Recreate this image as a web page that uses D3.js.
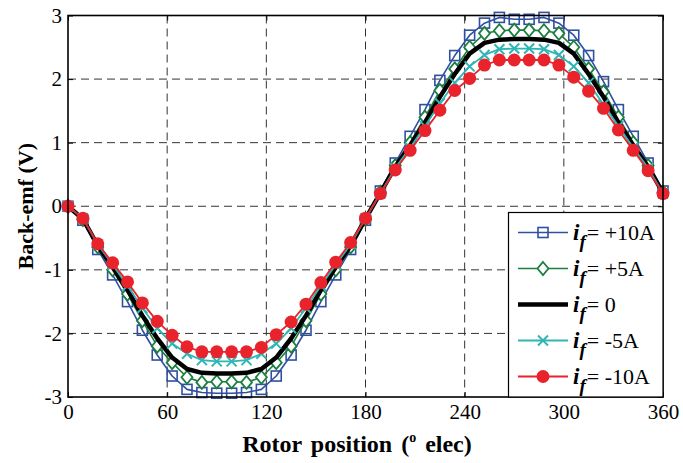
<!DOCTYPE html>
<html>
<head>
<meta charset="utf-8">
<script src="https://cdn.jsdelivr.net/npm/d3@7"></script>
<style>
  body { margin: 0; background: #fff; }
  text { font-family: "Liberation Serif", "Times New Roman", serif; }
</style>
</head>
<body>
<svg id="chart"></svg>
<script>
// 转子位置 (0..360, 每 9 度一个点)
const angles = d3.range(0, 361, 9);

// 各励磁电流下的反电势 (V)
const emfPlus10 = [0, -0.22, -0.68, -1.08, -1.5, -1.95, -2.34, -2.67, -2.88, -2.93, -2.94, -2.94, -2.93, -2.88, -2.67, -2.34, -1.95, -1.5, -1.08, -0.68, -0.22,
  0.24, 0.68, 1.1, 1.52, 1.98, 2.37, 2.69, 2.88, 2.97, 2.94, 2.94, 2.97, 2.88, 2.69, 2.37, 1.96, 1.52, 1.1, 0.68, 0.24];
const emfPlus5 = [0, -0.21, -0.64, -1.0, -1.38, -1.8, -2.2, -2.46, -2.69, -2.77, -2.76, -2.76, -2.77, -2.69, -2.46, -2.2, -1.8, -1.38, -1.0, -0.64, -0.21,
  0.22, 0.64, 1.0, 1.4, 1.82, 2.16, 2.5, 2.72, 2.76, 2.77, 2.77, 2.76, 2.72, 2.5, 2.16, 1.8, 1.4, 1.0, 0.64, 0.22];
const emfZero = [0, -0.2, -0.62, -0.96, -1.32, -1.72, -2.08, -2.38, -2.56, -2.62, -2.63, -2.63, -2.62, -2.56, -2.38, -2.08, -1.72, -1.32, -0.96, -0.62, -0.2,
  0.21, 0.62, 0.96, 1.32, 1.72, 2.08, 2.4, 2.57, 2.62, 2.63, 2.63, 2.62, 2.57, 2.4, 2.08, 1.72, 1.32, 0.96, 0.62, 0.21];
const emfMinus5 = [0, -0.19, -0.6, -0.92, -1.25, -1.6, -1.92, -2.16, -2.32, -2.42, -2.44, -2.44, -2.42, -2.32, -2.16, -1.92, -1.6, -1.25, -0.92, -0.6, -0.19,
  0.2, 0.6, 0.92, 1.26, 1.62, 1.94, 2.2, 2.38, 2.47, 2.48, 2.48, 2.47, 2.38, 2.2, 1.94, 1.6, 1.26, 0.92, 0.6, 0.2];
const emfMinus10 = [0, -0.19, -0.59, -0.89, -1.19, -1.52, -1.81, -2.03, -2.21, -2.29, -2.29, -2.29, -2.29, -2.22, -2.02, -1.82, -1.54, -1.2, -0.88, -0.57, -0.19,
  0.2, 0.57, 0.88, 1.19, 1.51, 1.82, 2.01, 2.22, 2.3, 2.3, 2.3, 2.3, 2.22, 2.03, 1.81, 1.54, 1.2, 0.88, 0.56, 0.2];

const seriesLabels = ["= +10A", "= +5A", "= 0", "= -5A", "= -10A"];
const xTicks = [0, 60, 120, 180, 240, 300, 360];
const yTicks = [-3, -2, -1, 0, 1, 2, 3];

// 图表尺寸
const width = 683;
const height = 463;
const margin = { top: 15.5, right: 20, bottom: 66, left: 68 };

const svg = d3.select("#chart").attr("width", width).attr("height", height);

const x = d3.scaleLinear().domain([0, 360]).range([margin.left, width - margin.right]);
const y = d3.scaleLinear().domain([-3, 3]).range([height - margin.bottom, margin.top]);

// 系列样式
const series = [
  { values: emfPlus10, color: "#2f4fa0", width: 1.6, marker: "square" },
  { values: emfPlus5, color: "#1b7f3e", width: 1.6, marker: "diamond" },
  { values: emfZero, color: "#000000", width: 4.5, marker: "none" },
  { values: emfMinus5, color: "#2fb5b5", width: 1.8, marker: "cross" },
  { values: emfMinus10, color: "#e8232b", width: 1.8, marker: "circle" }
];

// 网格线
const grid = svg.append("g").attr("stroke", "#333").attr("stroke-width", 1).attr("stroke-dasharray", "8,5");
grid.selectAll(".vgrid").data(xTicks.slice(1, -1)).enter().append("line")
  .attr("x1", d => x(d)).attr("x2", d => x(d))
  .attr("y1", y(3)).attr("y2", y(-3));
grid.selectAll(".hgrid").data(yTicks.slice(1, -1)).enter().append("line")
  .attr("x1", x(0)).attr("x2", x(360))
  .attr("y1", d => y(d)).attr("y2", d => y(d));

// 坐标轴
const axisFont = "21px";
const fmt = d => String(d);
const xAxis = svg.append("g")
  .attr("transform", `translate(0,${y(-3)})`)
  .call(d3.axisBottom(x).tickValues(xTicks).tickFormat(fmt).tickSizeInner(-5).tickSizeOuter(0).tickPadding(7));
const yAxis = svg.append("g")
  .attr("transform", `translate(${x(0)},0)`)
  .call(d3.axisLeft(y).tickValues(yTicks).tickFormat(fmt).tickSizeInner(-5).tickSizeOuter(0).tickPadding(6));
svg.append("g").attr("transform", `translate(0,${y(3)})`)
  .call(d3.axisTop(x).tickValues(xTicks).tickSizeInner(-5).tickSizeOuter(0).tickFormat(""));
svg.append("g").attr("transform", `translate(${x(360)},0)`)
  .call(d3.axisRight(y).tickValues(yTicks).tickSizeInner(-5).tickSizeOuter(0).tickFormat(""));
svg.selectAll(".domain").remove();
svg.selectAll(".tick line").attr("stroke", "#000");
[xAxis, yAxis].forEach(a => a.selectAll("text")
  .attr("font-size", axisFont).attr("fill", "#000"));

// 画曲线
const line = d3.line().x((d, i) => x(angles[i])).y(d => y(d));

function drawMarker(g, type, color, cx, cy) {
  if (type === "square") {
    g.append("rect").attr("x", cx - 5).attr("y", cy - 5).attr("width", 10).attr("height", 10)
      .attr("fill", "none").attr("stroke", color).attr("stroke-width", 1.6);
  } else if (type === "diamond") {
    g.append("path").attr("d", `M${cx},${cy - 6.5}L${cx + 5.5},${cy}L${cx},${cy + 6.5}L${cx - 5.5},${cy}Z`)
      .attr("fill", "#fff").attr("stroke", color).attr("stroke-width", 1.8);
  } else if (type === "cross") {
    g.append("path").attr("d", `M${cx - 5},${cy - 5}L${cx + 5},${cy + 5}M${cx - 5},${cy + 5}L${cx + 5},${cy - 5}`)
      .attr("stroke", color).attr("stroke-width", 2);
  } else if (type === "circle") {
    g.append("circle").attr("cx", cx).attr("cy", cy).attr("r", 6.5).attr("fill", color);
  }
}

series.forEach(s => {
  const g = svg.append("g");
  g.append("path").datum(s.values)
    .attr("fill", "none").attr("stroke", s.color).attr("stroke-width", s.width)
    .attr("stroke-linejoin", "round")
    .attr("d", line);
  s.values.forEach((v, i) => drawMarker(g, s.marker, s.color, x(angles[i]), y(v)));
});

// 边框
svg.append("rect")
  .attr("x", x(0)).attr("y", y(3))
  .attr("width", x(360) - x(0)).attr("height", y(-3) - y(3))
  .attr("fill", "none").attr("stroke", "#000").attr("stroke-width", 1.6);

// 图例
const legX = 508.5, legY = 212.5;
const legend = svg.append("g");
legend.append("rect")
  .attr("x", legX).attr("y", legY)
  .attr("width", x(360) - legX).attr("height", y(-3) - legY)
  .attr("fill", "#fff").attr("stroke", "#000").attr("stroke-width", 1.2);
series.forEach((s, i) => {
  const cy = 232.5 + i * 36;
  legend.append("line").attr("x1", 518).attr("x2", 568).attr("y1", cy).attr("y2", cy)
    .attr("stroke", s.color).attr("stroke-width", s.width);
  drawMarker(legend, s.marker, s.color, 543, cy);
  const t = legend.append("text").attr("x", 573).attr("y", cy + 7).attr("font-size", "22px").attr("fill", "#000");
  t.append("tspan").attr("font-weight", "bold").attr("font-style", "italic").attr("font-size", "23px").text("i");
  t.append("tspan").attr("font-weight", "bold").attr("font-style", "italic").attr("font-size", "19px").attr("dy", 8).text("f");
  t.append("tspan").attr("dy", -8).attr("dx", 1).text(seriesLabels[i]);
});

// 轴标题
const xTitle = svg.append("text")
  .attr("x", 357).attr("y", 452)
  .attr("text-anchor", "middle").attr("font-size", "24px").attr("font-weight", "bold")
  .attr("word-spacing", "3px");
xTitle.append("tspan").text("Rotor position (");
xTitle.append("tspan").attr("font-size", "14px").attr("dy", -10).text("o");
xTitle.append("tspan").attr("dy", 10).text(" elec)");

svg.append("text")
  .attr("transform", `translate(33,${y(0)}) rotate(-90)`)
  .attr("text-anchor", "middle").attr("font-size", "22px").attr("font-weight", "bold")
  .text("Back-emf (V)");
</script>
</body>
</html>
